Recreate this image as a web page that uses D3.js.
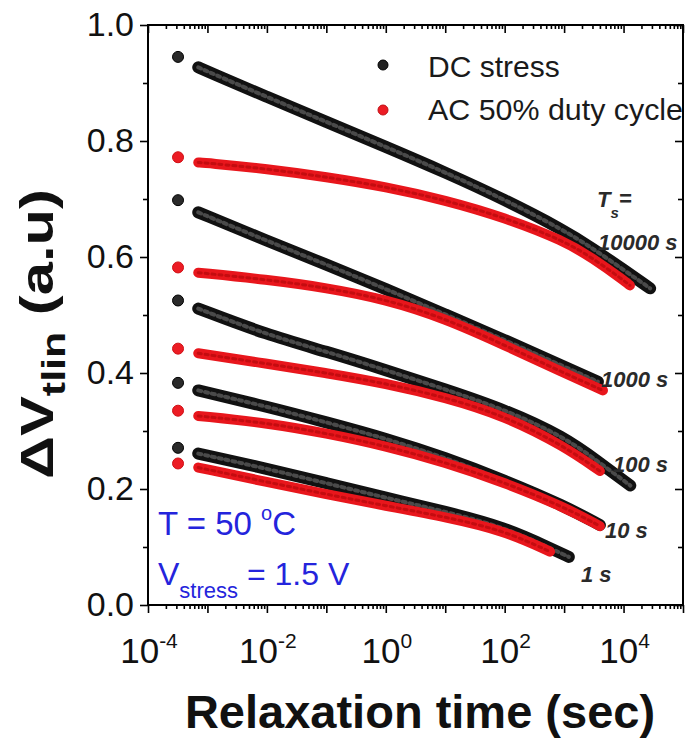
<!DOCTYPE html>
<html>
<head>
<meta charset="utf-8">
<script src="https://cdn.jsdelivr.net/npm/d3@7"></script>
<style>
  html, body { margin: 0; padding: 0; background: #fff; }
  svg { display: block; }
  text { font-family: "Liberation Sans", Arial, sans-serif; }
</style>
</head>
<body>
<svg id="chart" width="689" height="745"></svg>
<script>
// ---------------- DATA ----------------
const seriesNames = ["DC stress", "AC 50% duty cycle"];
const stressTimes = ["10000 s", "1000 s", "100 s", "10 s", "1 s"];

// DC stress curves (time in s, ΔVtlin in a.u)
const dc10000_t = [3.2e-4, 7e-4, 1e-3, 1e-2, 1e-1, 1, 10, 100, 1000, 3000, 1e4, 2.8e4];
const dc10000_v = [0.945, 0.927, 0.920, 0.876, 0.833, 0.790, 0.746, 0.699, 0.646, 0.615, 0.578, 0.546];
const dc1000_t  = [3.2e-4, 7e-4, 1e-2, 1e-1, 1, 10, 100, 1000, 3700];
const dc1000_v  = [0.698, 0.677, 0.628, 0.587, 0.545, 0.501, 0.457, 0.411, 0.385];
const dc100_t   = [3.2e-4, 7e-4, 1e-2, 1e-1, 1, 10, 100, 1000, 4000, 1.3e4];
const dc100_v   = [0.525, 0.511, 0.466, 0.437, 0.405, 0.372, 0.337, 0.290, 0.245, 0.206];
const dc10_t    = [3.2e-4, 7e-4, 1e-2, 1e-1, 1, 10, 100, 1000, 4000];
const dc10_v    = [0.383, 0.370, 0.342, 0.315, 0.287, 0.254, 0.215, 0.171, 0.138];
const dc1_t     = [3.2e-4, 7e-4, 1e-2, 1e-1, 1, 10, 100, 580, 1200];
const dc1_v     = [0.271, 0.261, 0.235, 0.210, 0.185, 0.161, 0.134, 0.098, 0.083];

// AC 50% duty cycle curves
const ac10000_t = [3.2e-4, 7e-4, 1e-3, 1e-2, 1e-1, 1, 10, 100, 1000, 3000, 1e4, 1.28e4];
const ac10000_v = [0.772, 0.763, 0.762, 0.752, 0.738, 0.721, 0.698, 0.668, 0.628, 0.598, 0.560, 0.551];
const ac1000_t  = [3.2e-4, 7e-4, 1e-2, 1e-1, 1, 10, 100, 1000, 4500];
const ac1000_v  = [0.582, 0.573, 0.561, 0.547, 0.527, 0.494, 0.448, 0.400, 0.370];
const ac100_t   = [3.2e-4, 7e-4, 1e-2, 1e-1, 1, 10, 100, 1000, 4000];
const ac100_v   = [0.442, 0.434, 0.416, 0.400, 0.382, 0.358, 0.326, 0.274, 0.231];
const ac10_t    = [3.2e-4, 7e-4, 1e-2, 1e-1, 1, 10, 100, 1000, 4000];
const ac10_v    = [0.335, 0.326, 0.314, 0.296, 0.274, 0.246, 0.211, 0.169, 0.136];
const ac1_t     = [3.2e-4, 7e-4, 1e-2, 1e-1, 1, 10, 100, 580];
const ac1_v     = [0.244, 0.237, 0.212, 0.191, 0.171, 0.152, 0.128, 0.092];

const yTicks = [0.0, 0.2, 0.4, 0.6, 0.8, 1.0];
const yMinorTicks = [0.1, 0.3, 0.5, 0.7, 0.9];
const xTickExponents = [-4, -2, 0, 2, 4];

// ---------------- LAYOUT ----------------
const L = 148, R = 683, T = 25, B = 605;
const svg = d3.select("#chart");
const x = d3.scaleLog().domain([1e-4, 1e5]).range([L, R]);
const y = d3.scaleLinear().domain([0, 1]).range([B, T]);

const zip = (ts, vs) => ts.map((t, i) => ({ t, v: vs[i] }));
const dcSeries = [zip(dc10000_t, dc10000_v), zip(dc1000_t, dc1000_v), zip(dc100_t, dc100_v), zip(dc10_t, dc10_v), zip(dc1_t, dc1_v)];
const acSeries = [zip(ac10000_t, ac10000_v), zip(ac1000_t, ac1000_v), zip(ac100_t, ac100_v), zip(ac10_t, ac10_v), zip(ac1_t, ac1_v)];

svg.append("defs").append("clipPath").attr("id", "plotclip")
  .append("rect").attr("x", L).attr("y", T).attr("width", R - L).attr("height", B - T);

const line = d3.line().x(d => x(d.t)).y(d => y(d.v)).curve(d3.curveBasis);
const data = svg.append("g").attr("clip-path", "url(#plotclip)");

function drawSeries(s, outer, inner, dotFill, dotStroke, wOuter, wInner) {
  const g = data.append("g");
  const rest = s.slice(1);
  g.append("path").attr("d", line(rest)).attr("fill", "none")
    .attr("stroke", outer).attr("stroke-width", wOuter).attr("stroke-linecap", "round").attr("stroke-linejoin", "round");
  g.append("path").attr("d", line(rest)).attr("fill", "none")
    .attr("stroke", inner).attr("stroke-width", wInner).attr("stroke-linecap", "round")
    .attr("stroke-dasharray", "3 4");
  g.append("circle").attr("cx", x(s[0].t)).attr("cy", y(s[0].v)).attr("r", 5.5)
    .attr("fill", dotFill).attr("stroke", dotStroke).attr("stroke-width", 1);
}
dcSeries.forEach(s => drawSeries(s, "#111", "#4a4a4a", "#2a2a2a", "#000", 12, 4));
acSeries.forEach(s => drawSeries(s, "#e8161c", "#c40c10", "#ec1c24", "#d01015", 10, 3));

// ---------------- AXES ----------------
const fmt = d3.format(".1f");
const decades = d3.range(-4, 6).map(e => Math.pow(10, e));
const minors = [];
for (let e = -4; e < 5; e++) for (let k = 2; k <= 9; k++) minors.push(k * Math.pow(10, e));

function styleAxis(g) {
  g.select(".domain").remove();
  g.selectAll("line").attr("stroke", "#000").attr("stroke-width", 1.6);
}

svg.append("g").attr("transform", `translate(${L},0)`)
  .call(d3.axisLeft(y).tickValues(yTicks).tickFormat(fmt).tickSize(8).tickPadding(6))
  .call(styleAxis)
  .call(g => g.selectAll("text").attr("font-size", 34).attr("fill", "#111")
    .attr("font-family", "'Liberation Sans', Arial, sans-serif"));
svg.append("g").attr("transform", `translate(${L},0)`)
  .call(d3.axisLeft(y).tickValues(yMinorTicks).tickFormat("").tickSize(5)).call(styleAxis);
svg.append("g").attr("transform", `translate(${R},0)`)
  .call(d3.axisLeft(y).tickValues(yTicks).tickFormat("").tickSize(8)).call(styleAxis);
svg.append("g").attr("transform", `translate(${R},0)`)
  .call(d3.axisLeft(y).tickValues(yMinorTicks).tickFormat("").tickSize(5)).call(styleAxis);
svg.append("g").attr("transform", `translate(0,${B})`)
  .call(d3.axisBottom(x).tickValues(decades).tickFormat("").tickSize(8)).call(styleAxis);
svg.append("g").attr("transform", `translate(0,${B})`)
  .call(d3.axisBottom(x).tickValues(minors).tickFormat("").tickSize(4)).call(styleAxis);
svg.append("g").attr("transform", `translate(0,${T})`)
  .call(d3.axisBottom(x).tickValues(decades).tickFormat("").tickSize(8)).call(styleAxis);
svg.append("g").attr("transform", `translate(0,${T})`)
  .call(d3.axisBottom(x).tickValues(minors).tickFormat("").tickSize(4)).call(styleAxis);

svg.append("rect").attr("x", L).attr("y", T).attr("width", R - L).attr("height", B - T)
  .attr("fill", "none").attr("stroke", "#000").attr("stroke-width", 2);

const xl = svg.append("g");
xTickExponents.forEach(e => {
  const t = xl.append("text").attr("x", x(Math.pow(10, e)) + 1).attr("y", 663)
    .attr("text-anchor", "middle").attr("font-size", 35).attr("fill", "#111");
  t.append("tspan").text("10");
  t.append("tspan").text(e === 0 ? "0" : (e < 0 ? "-" + (-e) : String(e)))
    .attr("font-size", 21).attr("dy", -15);
});

svg.append("text").attr("x", 420).attr("y", 728).attr("text-anchor", "middle")
  .attr("font-size", 47).attr("font-weight", "bold").attr("fill", "#111")
  .text("Relaxation time (sec)");

const yl = svg.append("text").attr("transform", "translate(53,334) rotate(-90) scale(1.3,1)")
  .attr("text-anchor", "middle").attr("font-size", 46).attr("font-weight", "bold").attr("fill", "#111");
yl.append("tspan").text("ΔV");
yl.append("tspan").text("tlin").attr("font-size", 33).attr("dy", 12);
yl.append("tspan").text(" (a.u)").attr("dy", -12);

// legend
const leg = svg.append("g");
leg.append("circle").attr("cx", 383).attr("cy", 65).attr("r", 5).attr("fill", "#222").attr("stroke", "#000");
leg.append("circle").attr("cx", 383).attr("cy", 110).attr("r", 5).attr("fill", "#ec1c24").attr("stroke", "#c01015");
leg.append("text").attr("x", 428).attr("y", 77).attr("font-size", 30).attr("fill", "#1a1a1a").text(seriesNames[0]);
leg.append("text").attr("x", 428).attr("y", 120).attr("font-size", 29).attr("fill", "#1a1a1a")
  .attr("textLength", 255).attr("lengthAdjust", "spacingAndGlyphs").text(seriesNames[1]);

// Ts annotations
const ann = svg.append("g").attr("font-style", "italic").attr("font-weight", "bold")
  .attr("fill", "#2a2a2a").attr("font-size", 22);
const ts = ann.append("text").attr("x", 597).attr("y", 207);
ts.append("tspan").text("T");
ts.append("tspan").text("s").attr("font-size", 15).attr("dy", 11);
ts.append("tspan").text("=").attr("dy", -12);
const annPos = [[598, 250], [601, 387], [613, 472], [605, 538], [581, 582]];
stressTimes.forEach((s, i) => {
  ann.append("text").attr("x", annPos[i][0]).attr("y", annPos[i][1]).text(s);
});

// conditions (blue)
const blue = "#2424dc";
const c1 = svg.append("text").attr("x", 158).attr("y", 535).attr("font-size", 33).attr("fill", blue);
c1.append("tspan").text("T = 50 ");
c1.append("tspan").text("o").attr("font-size", 20).attr("dy", -15);
c1.append("tspan").text("C").attr("dy", 15);
const c2 = svg.append("text").attr("x", 158).attr("y", 585).attr("font-size", 32).attr("fill", blue);
c2.append("tspan").text("V");
c2.append("tspan").text("stress").attr("font-size", 22).attr("dy", 13);
c2.append("tspan").text(" = 1.5 V").attr("dy", -13);
</script>
</body>
</html>
